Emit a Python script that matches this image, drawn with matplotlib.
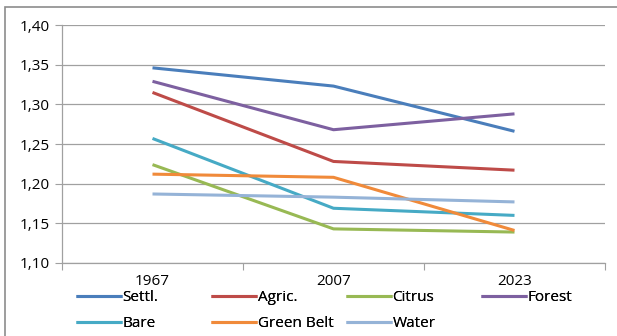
import matplotlib
matplotlib.use("Agg")
import matplotlib.pyplot as plt
from matplotlib.patches import Rectangle
from matplotlib.ticker import FixedLocator, FuncFormatter

years = ["1967", "2007", "2023"]
settl = [1.346, 1.323, 1.266]
agric = [1.315, 1.228, 1.217]
citrus = [1.224, 1.143, 1.139]
forest = [1.329, 1.268, 1.288]
bare = [1.257, 1.169, 1.160]
green_belt = [1.212, 1.208, 1.141]
water = [1.187, 1.183, 1.177]

series = [
    ("Settl.", settl, "#4A7EBB"),
    ("Agric.", agric, "#BE4B48"),
    ("Citrus", citrus, "#98B954"),
    ("Forest", forest, "#7D60A0"),
    ("Bare", bare, "#46AAC5"),
    ("Green Belt", green_belt, "#F08A3A"),
    ("Water", water, "#95B3D7"),
]

plt.rcParams["font.family"] = ["Open Sans", "DejaVu Sans"]
FS = 11

fig = plt.figure(figsize=(6.17, 3.36), dpi=100)
ax = fig.add_axes([62 / 617, 1 - 263 / 336, (605 - 62) / 617, (263 - 25) / 336])

x = list(range(len(years)))
handles = []
for name, vals, col in series:
    (ln,) = ax.plot(x, vals, color=col, lw=2.2, label=name, solid_capstyle="butt")
    handles.append(ln)

ax.set_xlim(-0.5, len(years) - 0.5)
ax.set_ylim(1.10, 1.40)
ax.set_yticks([1.10, 1.15, 1.20, 1.25, 1.30, 1.35, 1.40])
ax.yaxis.set_major_formatter(FuncFormatter(lambda v, p: f"{v:.2f}".replace(".", ",")))
ax.yaxis.grid(True, color="#A0A0A0", lw=0.9)
ax.set_axisbelow(True)

ax.xaxis.set_major_locator(FixedLocator([-0.5, 0.5, 1.5, 2.5]))
ax.xaxis.set_major_formatter(FuncFormatter(lambda v, p: ""))
ax.xaxis.set_minor_locator(FixedLocator(x))
ax.set_xticklabels(years, minor=True)
ax.tick_params(axis="x", which="major", length=5, color="#A0A0A0", direction="out")
ax.tick_params(axis="x", which="minor", length=0, labelsize=FS, pad=8)
ax.tick_params(axis="y", length=5, color="#A0A0A0", labelsize=FS, pad=4)

for s in ("top", "right"):
    ax.spines[s].set_visible(False)
for s in ("left", "bottom"):
    ax.spines[s].set_color("#A0A0A0")
    ax.spines[s].set_linewidth(0.9)

# Legend laid out row-wise in evenly spaced columns
col_x = [76, 211, 346, 481]
for c in range(4):
    col_handles = handles[c::4]
    lg = fig.legend(handles=col_handles, labels=[h.get_label() for h in col_handles],
                    loc="upper left", bbox_to_anchor=(col_x[c] / 617, 1 - 290 / 336),
                    frameon=False, fontsize=FS, handlelength=3.0, handletextpad=0.05,
                    labelspacing=0.72, borderaxespad=0, borderpad=0)
    fig.add_artist(lg)

fig.patches.append(Rectangle((5 / 617, -0.1), 1.2, 1 - 7 / 336 + 0.1,
                             transform=fig.transFigure, fill=False,
                             edgecolor="#8C8C8C", lw=1.2))

fig.savefig("out.png", dpi=100)
